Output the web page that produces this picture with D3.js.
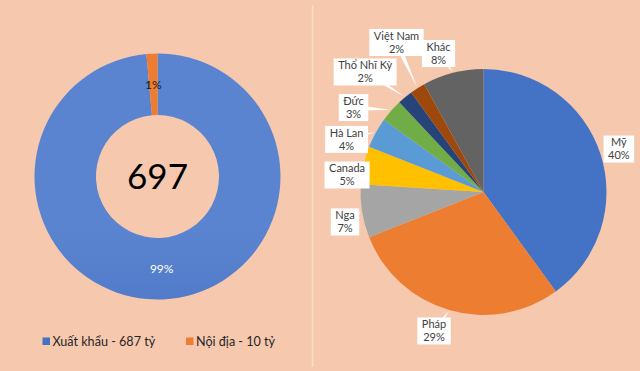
<!DOCTYPE html>
<html><head><meta charset="utf-8">
<script src="https://cdn.jsdelivr.net/npm/d3@7/dist/d3.min.js"></script>
<style>html,body{margin:0;padding:0;background:#f6c9ae;} svg{display:block;}</style>
</head><body><svg id="c" width="640" height="371"></svg>
<script>
// ---------- data ----------
const donutCategories = ["Xuất khẩu", "Nội địa"];
const donutValues = [687, 10];
const donutUnit = "tỷ";
const donutPercentLabels = ["99%", "1%"];
const donutTotalLabel = "697";

const marketCategories = ["Mỹ", "Pháp", "Nga", "Canada", "Hà Lan", "Đức", "Thổ Nhĩ Kỳ", "Việt Nam", "Khác"];
const marketValues = [40, 29, 7, 5, 4, 3, 2, 2, 8];
const marketPercentLabels = ["40%", "29%", "7%", "5%", "4%", "3%", "2%", "2%", "8%"];

// ---------- styles / layout ----------
const BG = "#f6c9ae";
const donutColors = ["url(#blueGrad)", "#ed7d31"];
const donutLegendColors = ["#4472c4", "#ed7d31"];
const marketColors = ["#4472c4", "#ed7d31", "#a5a5a5", "#ffc000", "#5b9bd5", "#70ad47", "#264478", "#9e480e", "#636363"];
// label placement: [distance from centre, angle in degrees clockwise from 12 o'clock]
const marketLabelPlacement = [[142, 72.4], [147.5, 199.6], [141.7, 257.8], [137.5, 277.1], [146.7, 291], [155, 303], [168.6, 315.4], [173, 329.8], [145.6, 342]];
const FONT = "Lato, 'Open Sans', 'DejaVu Sans', sans-serif";

const svg = d3.select("#c");
svg.append("rect").attr("width", 640).attr("height", 371).attr("fill", BG);

const defs = svg.append("defs");
const grad = defs.append("linearGradient").attr("id", "blueGrad")
  .attr("gradientUnits", "userSpaceOnUse").attr("x1", 0).attr("y1", 53).attr("x2", 0).attr("y2", 300);
grad.append("stop").attr("offset", "0%").attr("stop-color", "#5b84d0");
grad.append("stop").attr("offset", "100%").attr("stop-color", "#3a64b9");

// divider
svg.append("line").attr("x1", 312.5).attr("x2", 312.5).attr("y1", 5).attr("y2", 367)
  .attr("stroke", "#fbdcc8").attr("stroke-width", 1.5);

// ---------- donut ----------
const dcx = 157.5, dcy = 176.5, dOuter = 123, dInner = 61.5;
const dPie = d3.pie().sort(null).value(d => d)(donutValues);
const dArc = d3.arc().innerRadius(dInner).outerRadius(dOuter);
const dg = svg.append("g").attr("transform", `translate(${dcx},${dcy})`);
dg.selectAll("path").data(dPie).join("path").attr("d", dArc).attr("fill", (d, i) => donutColors[i]);
dg.selectAll("text.pl").data(dPie).join("text").attr("class", "pl")
  .attr("transform", d => `translate(${dArc.centroid(d)})`)
  .attr("text-anchor", "middle").attr("dy", "0.35em")
  .attr("font-family", FONT).attr("font-size", 12)
  .attr("fill", (d, i) => i === 0 ? "#ffffff" : "#1a1a1a")
  .text((d, i) => donutPercentLabels[i]);
dg.append("text").attr("text-anchor", "middle").attr("dy", "0.36em").attr("y", 0)
  .attr("font-family", FONT).attr("font-size", 35).attr("fill", "#000")
  .text(donutTotalLabel);

// legend
const lg = svg.append("g");
const legendX = [42.5, 186];
donutCategories.forEach((c, i) => {
  const lx = legendX[i];
  lg.append("rect").attr("x", lx).attr("y", 337.5).attr("width", 7.5).attr("height", 7.5).attr("fill", donutLegendColors[i]);
  lg.append("text").attr("x", lx + 10).attr("y", 346).attr("font-family", FONT).attr("font-size", 12.6)
    .attr("fill", "#262626").text(`${c} - ${donutValues[i]} ${donutUnit}`);
});

// ---------- market pie ----------
const mcx = 483.5, mcy = 192, mR = 123;
const mPie = d3.pie().sort(null).value(d => d)(marketValues);
const mArc = d3.arc().innerRadius(0).outerRadius(mR);
const mg = svg.append("g").attr("transform", `translate(${mcx},${mcy})`);
mg.selectAll("path").data(mPie).join("path").attr("d", mArc).attr("fill", (d, i) => marketColors[i]);

const labG = mg.append("g");
mPie.forEach((d, i) => {
  const [dist, angDeg] = marketLabelPlacement[i];
  const a = angDeg * Math.PI / 180;
  const cx = dist * Math.sin(a), cy = -dist * Math.cos(a);
  const mid = (d.startAngle + d.endAngle) / 2;
  const tx = (mR + 1) * Math.sin(mid), ty = -(mR + 1) * Math.cos(mid);
  const g = labG.append("g");
  const vx = tx - cx, vy = ty - cy, len = Math.hypot(vx, vy);
  const px = -vy / len * 3, py = vx / len * 3;
  g.append("path").attr("d", `M${cx + px},${cy + py}L${tx},${ty}L${cx - px},${cy - py}Z`).attr("fill", "#fff");
  const rect = g.append("rect").attr("fill", "#fff");
  const t1 = g.append("text").attr("x", cx).attr("y", cy - 2.6).attr("text-anchor", "middle")
    .attr("font-family", FONT).attr("font-size", 11).attr("fill", "#404040").text(marketCategories[i]);
  const t2 = g.append("text").attr("x", cx).attr("y", cy + 10.4).attr("text-anchor", "middle")
    .attr("font-family", FONT).attr("font-size", 11).attr("fill", "#404040").text(marketPercentLabels[i]);
  const w = Math.max(t1.node().getComputedTextLength(), t2.node().getComputedTextLength()) + 9;
  const h = 27;
  rect.attr("x", cx - w / 2).attr("y", cy - h / 2).attr("width", w).attr("height", h);
});
</script></body></html>
